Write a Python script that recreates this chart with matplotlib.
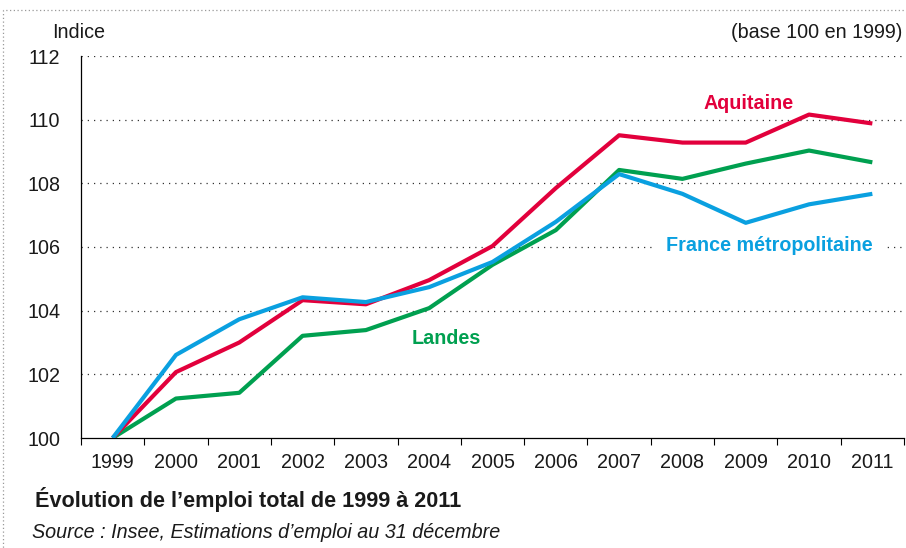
import matplotlib
matplotlib.use("Agg")
import matplotlib.pyplot as plt
from matplotlib.patches import Rectangle

years = ["1999", "2000", "2001", "2002", "2003", "2004", "2005", "2006",
         "2007", "2008", "2009", "2010", "2011"]
aquitaine = [100.0, 102.07, 103.0, 104.33, 104.2, 104.96, 106.03, 107.85,
             109.51, 109.28, 109.28, 110.16, 109.88]
landes = [100.0, 101.24, 101.42, 103.21, 103.39, 104.08, 105.44, 106.53,
          108.42, 108.14, 108.62, 109.03, 108.66]
france = [100.0, 102.61, 103.73, 104.42, 104.27, 104.74, 105.53, 106.79,
          108.29, 107.67, 106.76, 107.34, 107.67]
yticks = [100, 102, 104, 106, 108, 110, 112]

FONT = "Liberation Sans"
FS = 14.2

RED = "#E2003C"
GREEN = "#00A050"
BLUE = "#0AA0E0"

fig = plt.figure(figsize=(9.06, 5.48), dpi=100)
W, H = 906, 548
ax = fig.add_axes([81 / W, 1 - 438 / H, (904 - 81) / W, (438 - 56) / H])

x = list(range(len(years)))
ax.plot(x, landes, color=GREEN, lw=3, solid_capstyle="butt", zorder=3)
ax.plot(x, aquitaine, color=RED, lw=3, solid_capstyle="butt", zorder=4)
ax.plot(x, france, color=BLUE, lw=3, solid_capstyle="butt", zorder=5)

ax.set_xlim(-0.5, len(years) - 0.5)
ax.set_ylim(100, 112)
ax.set_yticks(yticks)
ax.set_yticklabels([str(v) for v in yticks], family=FONT, fontsize=FS, color="#1a1a1a")
ax.set_xticks(x)
ax.set_xticklabels(years, family=FONT, fontsize=FS, color="#1a1a1a")
ax.set_xticks([i - 0.5 for i in range(len(years) + 1)], minor=True)
ax.tick_params(axis="x", which="major", length=0, pad=11)
ax.tick_params(axis="x", which="minor", length=5, width=0.8, direction="out")
ax.tick_params(axis="y", which="major", length=0, pad=15)

for v in yticks[1:]:
    ax.axhline(v, color="#333333", lw=0.9, ls=(0, (1, 4)), zorder=1)

ax.spines["top"].set_visible(False)
ax.spines["right"].set_visible(False)
ax.spines["left"].set_linewidth(0.9)
ax.spines["bottom"].set_linewidth(0.9)

ax.text(10.04, 110.52, "Aquitaine", color=RED, fontweight="bold",
        family=FONT, fontsize=FS, ha="center", va="center")
ax.text(10.38, 106.05, "France métropolitaine", color=BLUE, fontweight="bold",
        family=FONT, fontsize=FS, ha="center", va="center", zorder=6,
        bbox=dict(fc="white", ec="none", pad=8))
ax.text(5.27, 103.14, "Landes", color=GREEN, fontweight="bold",
        family=FONT, fontsize=FS, ha="center", va="center")

fig.text(52 / W, 1 - 32 / H, "Indice", family=FONT, fontsize=FS,
         ha="left", va="center", color="#1a1a1a")
fig.text(902 / W, 1 - 32 / H, "(base 100 en 1999)", family=FONT,
         fontsize=FS, ha="right", va="center", color="#1a1a1a")
fig.text(35 / W, 1 - 500 / H, "Évolution de l’emploi total de 1999 à 2011",
         family=FONT, fontsize=15.6, fontweight="bold", ha="left", va="center",
         color="#1a1a1a")
fig.text(32 / W, 1 - 533 / H, "Source : Insee, Estimations d’emploi au 31 décembre",
         family=FONT, fontsize=FS, style="italic", ha="left", va="center",
         color="#1a1a1a")

fig.patches.append(Rectangle((3 / W, -0.1), 1.2, 1 - 10 / H + 0.1,
                             transform=fig.transFigure, fill=False,
                             edgecolor="#999999", lw=0.9, ls=(0, (1, 2))))

fig.savefig("out.png", dpi=100)
